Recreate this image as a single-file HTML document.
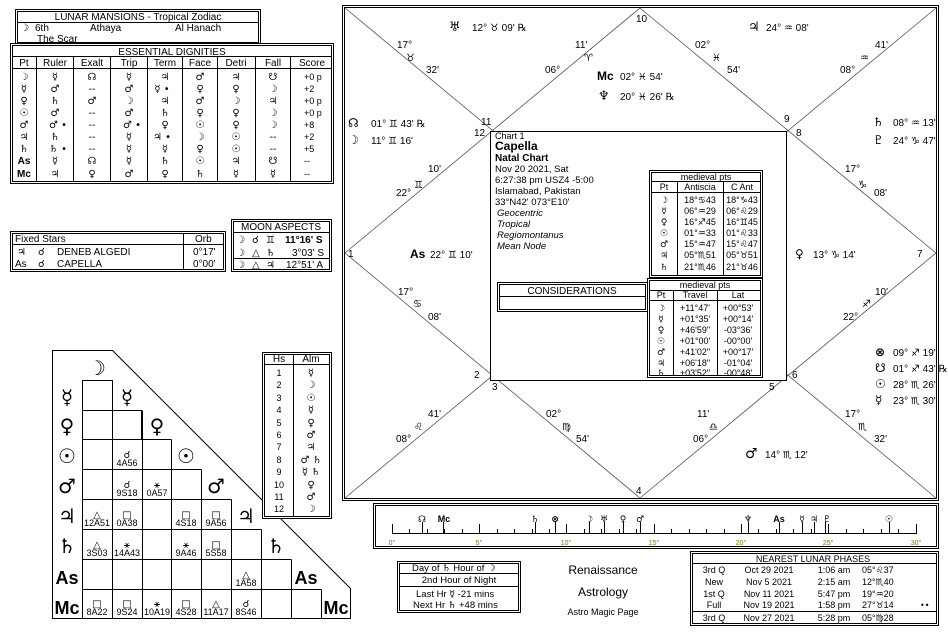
<!DOCTYPE html>
<html><head><meta charset="utf-8"><style>
html,body{margin:0;padding:0;background:#fff;}
svg{display:block;font-family:"Liberation Sans","DejaVu Sans",sans-serif;}
.s{font-size:10px;}
.g{font-family:"DejaVu Sans",sans-serif;}
</style></head><body>
<svg width="948" height="637" viewBox="0 0 948 637" xmlns="http://www.w3.org/2000/svg" font-size="10" fill="#000">
<!-- ===== Lunar Mansions ===== -->
<rect x="15.5" y="9.5" width="245" height="35" fill="#fff" stroke="#000"/>
<rect x="17.5" y="11.5" width="241" height="31" fill="none" stroke="#000"/>
<line x1="17" y1="22.5" x2="259" y2="22.5" stroke="#000"/>
<text x="138" y="20" text-anchor="middle">LUNAR MANSIONS - Tropical Zodiac</text>
<text x="20" y="31" class="g" font-weight="bold">☽</text><text x="35" y="31">6th</text><text x="90" y="31">Athaya</text><text x="175" y="31">Al Hanach</text>
<text x="37" y="42">The Scar</text>
<!-- ===== Essential Dignities ===== -->
<rect x="10.5" y="43.5" width="323" height="140" fill="#fff" stroke="#000"/>
<rect x="12.5" y="45.5" width="319" height="136" fill="none" stroke="#000"/>
<line x1="12" y1="56.5" x2="332" y2="56.5" stroke="#000"/>
<line x1="12" y1="68.5" x2="332" y2="68.5" stroke="#000"/>
<text x="172" y="55" text-anchor="middle">ESSENTIAL DIGNITIES</text>
<g stroke="#000"><line x1="36.5" y1="57" x2="36.5" y2="182"/><line x1="73.5" y1="57" x2="73.5" y2="182"/><line x1="110.5" y1="57" x2="110.5" y2="182"/><line x1="147.5" y1="57" x2="147.5" y2="182"/><line x1="182.5" y1="57" x2="182.5" y2="182"/><line x1="217.5" y1="57" x2="217.5" y2="182"/><line x1="255.5" y1="57" x2="255.5" y2="182"/><line x1="290.5" y1="57" x2="290.5" y2="182"/></g>
<g text-anchor="middle"><text x="24" y="66">Pt</text><text x="55" y="66">Ruler</text><text x="92" y="66">Exalt</text><text x="129" y="66">Trip</text><text x="165" y="66">Term</text><text x="200" y="66">Face</text><text x="236" y="66">Detri</text><text x="273" y="66">Fall</text><text x="312" y="66">Score</text></g>
<g class="g" font-size="10" text-anchor="middle">
<g font-weight="bold"><text x="24" y="80">☽</text><text x="24" y="92">☿</text><text x="24" y="104">♀</text><text x="24" y="116">☉</text><text x="24" y="128">♂</text><text x="24" y="140">♃</text><text x="24" y="152">♄</text><text x="24" y="164" font-family="Liberation Sans">As</text><text x="24" y="177" font-family="Liberation Sans">Mc</text></g>
<text x="55" y="80">☿</text><text x="92" y="80">☊</text><text x="129" y="80">☿</text><text x="165" y="80">♃</text><text x="200" y="80">♂</text><text x="236" y="80">♃</text><text x="273" y="80">☋</text>
<text x="55" y="92">♂</text><text x="92" y="92">--</text><text x="129" y="92">♂</text><text x="162" y="92">☿ •</text><text x="200" y="92">♀</text><text x="236" y="92">♀</text><text x="273" y="92">☽</text>
<text x="55" y="104">♄</text><text x="92" y="104">♂</text><text x="129" y="104">☽</text><text x="165" y="104">♃</text><text x="200" y="104">♂</text><text x="236" y="104">☽</text><text x="273" y="104">♃</text>
<text x="55" y="116">♂</text><text x="92" y="116">--</text><text x="129" y="116">♂</text><text x="165" y="116">♄</text><text x="200" y="116">♀</text><text x="236" y="116">♀</text><text x="273" y="116">☽</text>
<text x="58" y="128">♂ •</text><text x="92" y="128">--</text><text x="132" y="128">♂ •</text><text x="165" y="128">♀</text><text x="200" y="128">☉</text><text x="236" y="128">♀</text><text x="273" y="128">☽</text>
<text x="55" y="140">♄</text><text x="92" y="140">--</text><text x="129" y="140">☿</text><text x="162" y="140">♃ •</text><text x="200" y="140">☽</text><text x="236" y="140">☉</text><text x="273" y="140">--</text>
<text x="58" y="152">♄ •</text><text x="92" y="152">--</text><text x="129" y="152">☿</text><text x="165" y="152">☿</text><text x="200" y="152">♀</text><text x="236" y="152">☉</text><text x="273" y="152">--</text>
<text x="55" y="164">☿</text><text x="92" y="164">☊</text><text x="129" y="164">☿</text><text x="165" y="164">♄</text><text x="200" y="164">☉</text><text x="236" y="164">♃</text><text x="273" y="164">☋</text>
<text x="55" y="177">♃</text><text x="92" y="177">♀</text><text x="129" y="177">♂</text><text x="165" y="177">♀</text><text x="200" y="177">♄</text><text x="236" y="177">☿</text><text x="273" y="177">☿</text>
</g>
<g font-size="9"><text x="304" y="80">+0  p</text><text x="304" y="92">+2</text><text x="304" y="104">+0  p</text><text x="304" y="116">+0  p</text><text x="304" y="128">+8</text><text x="304" y="140">+2</text><text x="304" y="152">+5</text><text x="304" y="164">--</text><text x="304" y="177">--</text></g>
<!-- ===== Fixed stars ===== -->
<rect x="10.5" y="231.5" width="215" height="40" fill="none" stroke="#000"/>
<rect x="12.5" y="233.5" width="211" height="36" fill="none" stroke="#000"/>
<line x1="12" y1="244.5" x2="224" y2="244.5" stroke="#000"/><line x1="183.5" y1="234" x2="183.5" y2="270" stroke="#000"/>
<text x="15" y="242">Fixed Stars</text><text x="195" y="242">Orb</text>
<text x="17" y="255" class="g">♃</text><text x="38" y="255" class="g">☌</text><text x="57" y="255">DENEB ALGEDI</text><text x="193" y="255">0°17'</text>
<text x="15" y="267">As</text><text x="38" y="267" class="g">☌</text><text x="57" y="267">CAPELLA</text><text x="193" y="267">0°00'</text>
<!-- ===== Moon aspects ===== -->
<rect x="231.5" y="219.5" width="100" height="52" fill="none" stroke="#000"/>
<rect x="233.5" y="221.5" width="96" height="48" fill="none" stroke="#000"/>
<line x1="234" y1="232.5" x2="329" y2="232.5" stroke="#000"/><line x1="234" y1="258.5" x2="329" y2="258.5" stroke="#000"/>
<text x="281" y="230" text-anchor="middle">MOON ASPECTS</text>
<g class="g"><text x="236" y="243">☽</text><text x="252" y="243">☌</text><text x="266" y="243">♊</text><text x="236" y="256">☽</text><text x="252" y="256">△</text><text x="266" y="256">♄</text><text x="236" y="268">☽</text><text x="252" y="268">△</text><text x="266" y="268">♃</text></g>
<text x="285" y="243" font-weight="bold">11°16' S</text><text x="292" y="256">3°03' S</text><text x="286" y="268">12°51' A</text>
<!-- ===== Aspect grid ===== -->
<path d="M52.5 350.5 H112.5 L350.5 588.5 V618.5 H52.5 Z" fill="none" stroke="#000"/>
<g stroke="#000" fill="none">
<rect x="82.5" y="380.5" width="30" height="30"/>
<rect x="82.5" y="410.5" width="30" height="29"/><rect x="112.5" y="410.5" width="29" height="29"/>
<path d="M82.5 439.5H171.5M82.5 469.5H201.5M82.5 499.5H231.5M82.5 529.5H261.5M82.5 559.5H291.5M82.5 589.5H321.5"/>
<path d="M82.5 380.5V618.5M112.5 410.5V618.5M142.5 439.5V618.5M171.5 469.5V618.5M201.5 499.5V618.5M231.5 529.5V618.5M261.5 559.5V618.5M291.5 589.5V618.5M321.5 589.5V618.5"/>
<path d="M112.5 380.5V410.5M142.5 410.5V439.5M171.5 439.5V469.5M201.5 469.5V499.5M231.5 499.5V529.5M261.5 529.5V559.5M291.5 559.5V589.5"/>
<path d="M112.5 439.5V469.5M142.5 439.5V469.5"/>
</g>
<g class="g" font-size="20" font-weight="bold" text-anchor="middle">
<text x="97" y="375">☽</text>
<text x="67" y="404">☿</text><text x="127" y="404">☿</text>
<text x="67" y="433">♀</text><text x="157" y="433">♀</text>
<text x="67" y="463">☉</text><text x="186" y="463">☉</text>
<text x="67" y="493">♂</text><text x="216" y="493">♂</text>
<text x="67" y="523">♃</text><text x="246" y="523">♃</text>
<text x="67" y="553">♄</text><text x="276" y="553">♄</text>
</g>
<g font-size="18" font-weight="bold" text-anchor="middle" font-family="Liberation Sans">
<text x="67" y="584">As</text><text x="306" y="584">As</text>
<text x="67" y="614">Mc</text><text x="336" y="614">Mc</text>
</g>
<g font-size="9" text-anchor="middle">
<g class="g" font-size="10"><text x="127" y="458">☌</text><text x="127" y="488">☌</text><text x="157" y="488">⚹</text>
<text x="97" y="518">△</text><text x="127" y="518">□</text><text x="186" y="518">□</text><text x="216" y="518">□</text>
<text x="97" y="548">△</text><text x="127" y="548">⚹</text><text x="186" y="548">⚹</text><text x="216" y="548">□</text>
<text x="246" y="578">△</text>
<text x="97" y="607">□</text><text x="127" y="607">□</text><text x="157" y="607">⚹</text><text x="186" y="607">□</text><text x="216" y="607">△</text><text x="246" y="607">☌</text></g>
<text x="127" y="466">4A56</text><text x="127" y="496">9S18</text><text x="157" y="496">0A57</text>
<text x="97" y="526">12A51</text><text x="127" y="526">0A38</text><text x="186" y="526">4S18</text><text x="216" y="526">9A56</text>
<text x="97" y="556">3S03</text><text x="127" y="556">14A43</text><text x="186" y="556">9A46</text><text x="216" y="556">5S58</text>
<text x="246" y="586">1A58</text>
<text x="97" y="615">8A22</text><text x="127" y="615">9S24</text><text x="157" y="615">10A19</text><text x="186" y="615">4S28</text><text x="216" y="615">11A17</text><text x="246" y="615">8S46</text>
</g>
<!-- Hs / Alm -->
<rect x="262.5" y="352.5" width="69" height="166" fill="#fff" stroke="#000"/>
<rect x="264.5" y="354.5" width="65" height="162" fill="none" stroke="#000"/>
<line x1="265" y1="364.5" x2="329" y2="364.5" stroke="#000"/><line x1="293.5" y1="355" x2="293.5" y2="516" stroke="#000"/>
<text x="279" y="362" text-anchor="middle">Hs</text><text x="311" y="362" text-anchor="middle">Alm</text>
<g font-size="9" text-anchor="middle"><text x="279" y="376">1</text><text x="279" y="388">2</text><text x="279" y="401">3</text><text x="279" y="413">4</text><text x="279" y="426">5</text><text x="279" y="438">6</text><text x="279" y="450">7</text><text x="279" y="463">8</text><text x="279" y="475">9</text><text x="279" y="488">10</text><text x="279" y="500">11</text><text x="279" y="512">12</text></g>
<g class="g" font-size="10" text-anchor="middle"><text x="311" y="376">☿</text><text x="311" y="388">☽</text><text x="311" y="401">☉</text><text x="311" y="413">☿</text><text x="311" y="426">♀</text><text x="311" y="438">♂</text><text x="311" y="450">♃</text><text x="311" y="463">♂ ♄</text><text x="311" y="475">☿ ♄</text><text x="311" y="488">♀</text><text x="311" y="500">♂</text><text x="311" y="512">☽</text></g>
<!-- ===== Main chart ===== -->
<rect x="342.5" y="5.5" width="596" height="495" fill="none" stroke="#000"/>
<rect x="344.5" y="7.5" width="592" height="491" fill="none" stroke="#000"/>
<g stroke="#555" stroke-width="0.8">
<line x1="345" y1="8" x2="936" y2="498"/><line x1="936" y1="8" x2="345" y2="498"/>
<path d="M640 8 L936 253 L640 498 L345 253 Z" fill="none"/>
</g>
<rect x="490.5" y="131.5" width="296" height="249" fill="#fff" stroke="#000"/>
<g font-size="10">
<text x="636" y="22">10</text><text x="348" y="257">1</text><text x="917" y="257">7</text><text x="636" y="494">4</text>
<text x="481" y="125">11</text><text x="474" y="136">12</text><text x="784" y="122">9</text><text x="796" y="136">8</text>
<text x="474" y="378">2</text><text x="492" y="390">3</text><text x="792" y="378">6</text><text x="769" y="390">5</text>
</g>
<g font-size="10">
<text x="397" y="48">17°</text><text x="406" y="61" class="g">♉</text><text x="426" y="73">32'</text>
<text x="449" y="31" class="g" font-size="13" font-weight="bold">♅</text><text x="472" y="31">12° ♉ 09' ℞</text>
<text x="575" y="48">11'</text><text x="584" y="61" class="g">♈</text><text x="545" y="73">06°</text>
<text x="695" y="48">02°</text><text x="712" y="61" class="g">♓</text><text x="727" y="73">54'</text>
<text x="748" y="31" class="g" font-size="13" font-weight="bold">♃</text><text x="766" y="31">24° ♒ 08'</text>
<text x="875" y="48">41'</text><text x="860" y="61" class="g">♒</text><text x="840" y="73">08°</text>
<text x="597" y="80" font-size="12" font-weight="bold">Mc</text><text x="620" y="80">02° ♓ 54'</text>
<text x="598" y="100" class="g" font-size="13" font-weight="bold">♆</text><text x="620" y="100">20° ♓ 26' ℞</text>
<text x="348" y="127" class="g" font-size="12" font-weight="bold">☊</text><text x="371" y="127">01° ♊ 43' ℞</text>
<text x="348" y="144" class="g" font-size="12" font-weight="bold">☽</text><text x="371" y="144">11° ♊ 16'</text>
<text x="873" y="126" class="g" font-size="12" font-weight="bold">♄</text><text x="893" y="126">08° ♒ 13'</text>
<text x="873" y="144" class="g" font-size="12" font-weight="bold">♇</text><text x="893" y="144">24° ♑ 47'</text>
<text x="428" y="172">10'</text><text x="414" y="188" class="g">♊</text><text x="396" y="196">22°</text>
<text x="845" y="172">17°</text><text x="858" y="188" class="g">♑</text><text x="874" y="196">08'</text>
<text x="410" y="258" font-size="12" font-weight="bold">As</text><text x="430" y="258">22° ♊ 10'</text>
<text x="795" y="258" class="g" font-size="12" font-weight="bold">♀</text><text x="813" y="258">13° ♑ 14'</text>
<text x="398" y="295">17°</text><text x="413" y="307" class="g">♋</text><text x="428" y="320">08'</text>
<text x="875" y="295">10'</text><text x="862" y="307" class="g">♐</text><text x="843" y="320">22°</text>
<text x="875" y="356" class="g" font-size="12" font-weight="bold">⊗</text><text x="893" y="356">09° ♐ 19'</text>
<text x="875" y="372" class="g" font-size="12" font-weight="bold">☋</text><text x="893" y="372">01° ♐ 43' ℞</text>
<text x="875" y="388" class="g" font-size="12" font-weight="bold">☉</text><text x="893" y="388">28° ♏ 26'</text>
<text x="875" y="404" class="g" font-size="12" font-weight="bold">☿</text><text x="893" y="404">23° ♏ 30'</text>
<text x="428" y="417">41'</text><text x="414" y="430" class="g">♌</text><text x="396" y="442">08°</text>
<text x="546" y="417">02°</text><text x="562" y="430" class="g">♍</text><text x="576" y="442">54'</text>
<text x="697" y="417">11'</text><text x="709" y="430" class="g">♎</text><text x="693" y="442">06°</text>
<text x="845" y="417">17°</text><text x="858" y="430" class="g">♏</text><text x="874" y="442">32'</text>
<text x="745" y="458" class="g" font-size="14" font-weight="bold">♂</text><text x="765" y="458">14° ♏ 12'</text>
</g>
<!-- chart info -->
<text x="495" y="139" font-size="9">Chart 1</text>
<text x="495" y="150" font-size="12" font-weight="bold">Capella</text>
<text x="495" y="161" font-size="10" font-weight="bold">Natal Chart</text>
<g font-size="9.5"><text x="495" y="172">Nov 20 2021, Sat</text><text x="495" y="183">6:27:38 pm  USZ4 -5:00</text><text x="495" y="194">Islamabad, Pakistan</text><text x="495" y="205">33°N42' 073°E10'</text>
<g font-style="italic"><text x="497" y="216">Geocentric</text><text x="497" y="227">Tropical</text><text x="497" y="238">Regiomontanus</text><text x="497" y="249">Mean Node</text></g></g>
<!-- considerations -->
<rect x="497.5" y="282.5" width="150" height="29" fill="#fff" stroke="#000"/>
<rect x="499.5" y="284.5" width="146" height="25" fill="none" stroke="#000"/>
<line x1="500" y1="296.5" x2="645" y2="296.5" stroke="#000"/>
<text x="572" y="294" text-anchor="middle">CONSIDERATIONS</text>
<!-- antiscia -->
<rect x="649.5" y="170.5" width="113" height="107" fill="#fff" stroke="#000"/>
<rect x="651.5" y="172.5" width="109" height="103" fill="none" stroke="#000"/>
<line x1="652" y1="181.5" x2="760" y2="181.5" stroke="#000"/><line x1="652" y1="192.5" x2="760" y2="192.5" stroke="#000"/>
<line x1="677.5" y1="182" x2="677.5" y2="275" stroke="#000"/><line x1="723.5" y1="182" x2="723.5" y2="275" stroke="#000"/>
<text x="706" y="180" text-anchor="middle" font-size="9">medieval pts</text>
<g font-size="9" text-anchor="middle"><text x="664" y="190">Pt</text><text x="700" y="190">Antiscia</text><text x="742" y="190">C Ant</text>
<g class="g" font-weight="bold"><text x="664" y="203">☽</text><text x="664" y="214">☿</text><text x="664" y="225">♀</text><text x="664" y="236">☉</text><text x="664" y="247">♂</text><text x="664" y="258">♃</text><text x="664" y="270">♄</text></g>
<text x="700" y="203">18°♋43</text><text x="700" y="214">06°♒29</text><text x="700" y="225">16°♐45</text><text x="700" y="236">01°♒33</text><text x="700" y="247">15°♒47</text><text x="700" y="258">05°♏51</text><text x="700" y="270">21°♏46</text>
<text x="742" y="203">18°♑43</text><text x="742" y="214">06°♌29</text><text x="742" y="225">16°♊45</text><text x="742" y="236">01°♌33</text><text x="742" y="247">15°♌47</text><text x="742" y="258">05°♉51</text><text x="742" y="270">21°♉46</text></g>
<!-- travel -->
<rect x="647.5" y="278.5" width="115" height="99" fill="#fff" stroke="#000"/>
<rect x="649.5" y="280.5" width="111" height="95" fill="none" stroke="#000"/>
<line x1="650" y1="290.5" x2="760" y2="290.5" stroke="#000"/><line x1="650" y1="300.5" x2="760" y2="300.5" stroke="#000"/>
<line x1="673.5" y1="291" x2="673.5" y2="375" stroke="#000"/><line x1="717.5" y1="291" x2="717.5" y2="375" stroke="#000"/>
<text x="705" y="288" text-anchor="middle" font-size="9">medieval pts</text>
<g font-size="9" text-anchor="middle"><text x="661" y="298">Pt</text><text x="695" y="298">Travel</text><text x="738" y="298">Lat</text>
<g class="g" font-weight="bold"><text x="661" y="311">☽</text><text x="661" y="322">☿</text><text x="661" y="333">♀</text><text x="661" y="344">☉</text><text x="661" y="355">♂</text><text x="661" y="366">♃</text><text x="661" y="376">♄</text></g>
<text x="695" y="311">+11°47'</text><text x="695" y="322">+01°35'</text><text x="695" y="333">+46'59"</text><text x="695" y="344">+01°00'</text><text x="695" y="355">+41'02"</text><text x="695" y="366">+06'18"</text><text x="695" y="376">+03'52"</text>
<text x="738" y="311">+00°53'</text><text x="738" y="322">+00°14'</text><text x="738" y="333">-03°36'</text><text x="738" y="344">-00°00'</text><text x="738" y="355">+00°17'</text><text x="738" y="366">-01°04'</text><text x="738" y="376">-00°48'</text></g>
<!-- ===== Timeline ===== -->
<rect x="373.5" y="503.5" width="565" height="45" fill="none" stroke="#000"/>
<rect x="375.5" y="505.5" width="561" height="41" fill="none" stroke="#000"/>
<line x1="392" y1="533.5" x2="916" y2="533.5" stroke="#000"/>
<g stroke="#000">
<path d="M392.5 524V534 M409.5 529V534 M427.5 529V534 M444.5 529V534 M462.5 529V534 M479.5 524V534 M497.5 529V534 M514.5 529V534 M532.5 529V534 M549.5 529V534 M566.5 524V534 M584.5 529V534 M601.5 529V534 M619.5 529V534 M636.5 529V534 M654.5 524V534 M671.5 529V534 M689.5 529V534 M706.5 529V534 M724.5 529V534 M741.5 524V534 M758.5 529V534 M776.5 529V534 M793.5 529V534 M811.5 529V534 M828.5 524V534 M846.5 529V534 M863.5 529V534 M881.5 529V534 M898.5 529V534 M916.5 524V534"/>
<path d="M422.5 522V534 M443.5 522V534 M535.5 522V534 M555.5 522V534 M589.5 522V534 M604.5 522V534 M623.5 522V534 M640.5 522V534 M748.5 522V534 M779.5 522V534 M802.5 522V534 M814.5 522V534 M825.5 522V534 M889.5 522V534"/>
</g>
<g class="g" font-size="9" font-weight="bold" text-anchor="middle">
<text x="422" y="522">☊</text><text x="444" y="522" font-family="Liberation Sans">Mc</text><text x="535" y="522">♄</text><text x="555" y="522">⊗</text><text x="589" y="522">☽</text><text x="604" y="522">♅</text><text x="623" y="522">♀</text><text x="640" y="522">♂</text><text x="748" y="522">♆</text><text x="779" y="522" font-family="Liberation Sans">As</text><text x="802" y="522">☿</text><text x="814" y="522">♃</text><text x="827" y="522">♇</text><text x="889" y="522">☉</text>
</g>
<g font-size="7" fill="#8a6a10" text-anchor="middle"><text x="392" y="545">0°</text><text x="479" y="545">5°</text><text x="566" y="545">10°</text><text x="654" y="545">15°</text><text x="741" y="545">20°</text><text x="828" y="545">25°</text><text x="916" y="545">30°</text></g>
<!-- Day/Hour -->
<rect x="397.5" y="561.5" width="123" height="51" fill="none" stroke="#000"/>
<rect x="399.5" y="563.5" width="119" height="47" fill="none" stroke="#000"/>
<line x1="400" y1="573.5" x2="518" y2="573.5" stroke="#000"/><line x1="400" y1="586.5" x2="518" y2="586.5" stroke="#000"/>
<g font-size="9.5"><text x="412" y="571">Day of <tspan class="g" font-weight="bold">♄</tspan>    Hour of <tspan class="g" font-weight="bold">☽</tspan></text>
<text x="459" y="583" text-anchor="middle">2nd Hour of Night</text>
<text x="416" y="597">Last Hr  <tspan class="g">☿</tspan>  -21 mins</text>
<text x="413" y="608">Next Hr  <tspan class="g">♄</tspan>  +48 mins</text></g>
<text x="603" y="574" text-anchor="middle" font-size="12">Renaissance</text>
<text x="603" y="596" text-anchor="middle" font-size="12">Astrology</text>
<text x="603" y="615" text-anchor="middle" font-size="9">Astro Magic Page</text>
<!-- Lunar phases -->
<rect x="690.5" y="551.5" width="248" height="74" fill="#fff" stroke="#000"/>
<rect x="692.5" y="553.5" width="244" height="70" fill="none" stroke="#000"/>
<line x1="693" y1="563.5" x2="936" y2="563.5" stroke="#000"/><line x1="693" y1="611.5" x2="936" y2="611.5" stroke="#000"/>
<text x="813" y="562" text-anchor="middle" font-size="9">NEAREST LUNAR PHASES</text>
<g font-size="9"><g text-anchor="middle"><text x="714" y="573">3rd Q</text><text x="714" y="585">New</text><text x="714" y="597">1st Q</text><text x="714" y="608">Full</text><text x="714" y="621">3rd Q</text>
<text x="769" y="573">Oct 29 2021</text><text x="769" y="585">Nov 5 2021</text><text x="769" y="597">Nov 11 2021</text><text x="769" y="608">Nov 19 2021</text><text x="769" y="621">Nov 27 2021</text>
<text x="834" y="573">1:06 am</text><text x="834" y="585">2:15 am</text><text x="834" y="597">5:47 pm</text><text x="834" y="608">1:58 pm</text><text x="834" y="621">5:28 pm</text></g>
<text x="862" y="573">05°♌37</text><text x="862" y="585">12°♏40</text><text x="862" y="597">19°♒20</text><text x="862" y="608">27°♉14</text><text x="862" y="621">05°♍28</text>
<text x="920" y="608" class="g" font-size="8">••</text></g>
</svg>
</body></html>
